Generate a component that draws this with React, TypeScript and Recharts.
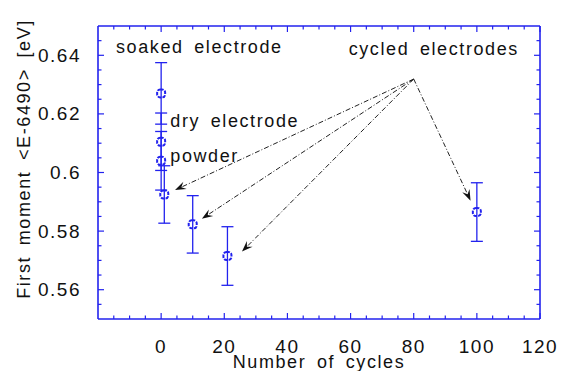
import React from 'react';
import {
  ScatterChart,
  Scatter,
  XAxis,
  YAxis,
  ErrorBar,
  ReferenceLine,
  ReferenceDot,
} from 'recharts';

const BLUE = '#2222ee';
const INK = '#111111';
const FONT = '"Liberation Sans", Arial, Helvetica, sans-serif';

// measured first moments
const cycles = [0, 0, 0, 1, 10, 21, 100];
const moment = [0.627, 0.6105, 0.604, 0.5925, 0.5823, 0.5715, 0.5865];
const momentErr = [0.0105, 0.0098, 0.01, 0.0098, 0.0098, 0.01, 0.01];

// axes
const xTicks = [-15, -10, -5, 0, 5, 10, 15, 20, 25, 30, 35, 40, 45, 50, 55, 60, 65, 70, 75, 80, 85, 90, 95, 100, 105, 110, 115, 120];
const xLabels = [0, 20, 40, 60, 80, 100, 120];
const yTicks = [0.555, 0.56, 0.565, 0.57, 0.575, 0.58, 0.585, 0.59, 0.595, 0.6, 0.605, 0.61, 0.615, 0.62, 0.625, 0.63, 0.635, 0.64, 0.645];
const yLabels = [0.56, 0.58, 0.6, 0.62, 0.64];

// annotations
const noteText = ['soaked electrode', 'cycled electrodes', 'dry electrode', 'powder'];
const noteX = [-14.3, 59.4, 2.9, 2.9];
const noteY = [0.6409, 0.6401, 0.6155, 0.6036];

const arrowFromX = 80;
const arrowFromY = 0.6319;
const arrowToX = [4.4, 12.9, 25.6, 98];
const arrowToY = [0.594, 0.5842, 0.573, 0.5904];

const data = cycles.map((x, i) => ({ x, y: moment[i], err: momentErr[i] }));

const textStyle = { fontFamily: FONT, fill: INK, letterSpacing: 1.6, wordSpacing: 4 };

const BottomTick = (props: any) => {
  const { x, y, payload } = props;
  const major = xLabels.includes(payload.value);
  return (
    <g>
      <line x1={x} x2={x} y1={y} y2={y - (major ? 6 : 3.5)} stroke={BLUE} strokeWidth={1.2} />
      {major && (
        <text x={x} y={y + 34} textAnchor="middle" fontSize={19} style={{ ...textStyle, letterSpacing: 1.5 }}>
          {payload.value}
        </text>
      )}
    </g>
  );
};

const TopTick = (props: any) => {
  const { x, y, payload } = props;
  const major = xLabels.includes(payload.value);
  return <line x1={x} x2={x} y1={y} y2={y + (major ? 6 : 3.5)} stroke={BLUE} strokeWidth={1.2} />;
};

const LeftTick = (props: any) => {
  const { x, y, payload } = props;
  const major = yLabels.includes(payload.value);
  return (
    <g>
      <line x1={x} x2={x + (major ? 6 : 3.5)} y1={y} y2={y} stroke={BLUE} strokeWidth={1.2} />
      {major && (
        <text x={x - 17} y={y + 6.5} textAnchor="end" fontSize={19} style={{ ...textStyle, letterSpacing: 1.5 }}>
          {payload.value}
        </text>
      )}
    </g>
  );
};

const RightTick = (props: any) => {
  const { x, y, payload } = props;
  const major = yLabels.includes(payload.value);
  return <line x1={x} x2={x - (major ? 6 : 3.5)} y1={y} y2={y} stroke={BLUE} strokeWidth={1.2} />;
};

const Marker = (props: any) => {
  const { cx, cy } = props;
  return (
    <rect
      x={cx - 4}
      y={cy - 4}
      width={8}
      height={8}
      rx={3}
      fill="none"
      stroke={BLUE}
      strokeWidth={2}
      strokeDasharray="3.5 1.2"
    />
  );
};

const Nothing = () => <g />;

const Arrow = (props: any) => {
  const { x1, y1, x2, y2 } = props;
  const len = Math.hypot(x2 - x1, y2 - y1) || 1;
  const ux = (x2 - x1) / len;
  const uy = (y2 - y1) / len;
  const bx = x2 - ux * 11;
  const by = y2 - uy * 11;
  const nx = x2 - ux * 7;
  const ny = y2 - uy * 7;
  const px = -uy * 4;
  const py = ux * 4;
  return (
    <g>
      <line x1={x1} y1={y1} x2={nx} y2={ny} stroke="#222" strokeWidth={1} strokeDasharray="5 2 1 2" />
      <polygon
        points={`${x2},${y2} ${bx + px},${by + py} ${nx},${ny} ${bx - px},${by - py}`}
        fill="#111"
      />
    </g>
  );
};

const Note = (text: string) => (props: any) => (
  <text x={props.cx} y={props.cy} fontSize={18} style={textStyle}>
    {text}
  </text>
);

const axisLine = { stroke: BLUE, strokeWidth: 1.6 };

export default function App() {
  return (
    <div style={{ position: 'absolute', left: 0, top: 0, width: 564, height: 371, background: '#fff' }}>
      <ScatterChart width={564} height={371} margin={{ top: 25, right: 23, bottom: 0, left: 0 }}>
        <XAxis
          xAxisId="b"
          type="number"
          dataKey="x"
          domain={[-20, 120]}
          allowDataOverflow
          ticks={xTicks}
          interval={0}
          orientation="bottom"
          height={52}
          tickSize={0}
          tickMargin={0}
          tickLine={false}
          axisLine={axisLine}
          tick={<BottomTick />}
          label={{
            value: 'Number of cycles',
            content: (p: any) => (
              <text
                x={p.viewBox.x + p.viewBox.width / 2}
                y={p.viewBox.y + 49}
                textAnchor="middle"
                fontSize={18}
                style={textStyle}
              >
                Number of cycles
              </text>
            ),
          }}
        />
        <XAxis
          xAxisId="t"
          type="number"
          dataKey="x"
          domain={[-20, 120]}
          allowDataOverflow
          ticks={xTicks}
          interval={0}
          orientation="top"
          height={1}
          tickSize={0}
          tickMargin={0}
          tickLine={false}
          axisLine={axisLine}
          tick={<TopTick />}
        />
        <YAxis
          yAxisId="l"
          type="number"
          dataKey="y"
          domain={[0.55, 0.65]}
          allowDataOverflow
          ticks={yTicks}
          interval={0}
          orientation="left"
          width={98}
          tickSize={0}
          tickMargin={0}
          tickLine={false}
          axisLine={axisLine}
          tick={<LeftTick />}
          label={{
            value: 'First moment <E-6490> [eV]',
            content: () => (
              <text
                x={30}
                y={159}
                transform="rotate(-90, 30, 159)"
                textAnchor="middle"
                fontSize={18}
                style={textStyle}
              >
                {'First moment <E-6490> [eV]'}
              </text>
            ),
          }}
        />
        <YAxis
          yAxisId="r"
          type="number"
          dataKey="y"
          domain={[0.55, 0.65]}
          allowDataOverflow
          ticks={yTicks}
          interval={0}
          orientation="right"
          width={1}
          tickSize={0}
          tickMargin={0}
          tickLine={false}
          axisLine={axisLine}
          tick={<RightTick />}
        />

        {/* invisible copy so the mirror axes get a domain */}
        <Scatter xAxisId="t" yAxisId="r" data={data} shape={<Nothing />} isAnimationActive={false} />

        {arrowToX.map((tx, i) => (
          <ReferenceLine
            key={`arrow-${i}`}
            xAxisId="b"
            yAxisId="l"
            segment={[
              { x: arrowFromX, y: arrowFromY },
              { x: tx, y: arrowToY[i] },
            ]}
            shape={Arrow}
          />
        ))}

        {noteText.map((t, i) => (
          <ReferenceDot
            key={`note-${i}`}
            xAxisId="b"
            yAxisId="l"
            x={noteX[i]}
            y={noteY[i]}
            r={0}
            shape={Note(t)}
          />
        ))}

        <Scatter xAxisId="b" yAxisId="l" data={data} shape={<Marker />} isAnimationActive={false}>
          <ErrorBar dataKey="err" direction="y" width={6} stroke={BLUE} strokeWidth={1.3} />
        </Scatter>
      </ScatterChart>
    </div>
  );
}
